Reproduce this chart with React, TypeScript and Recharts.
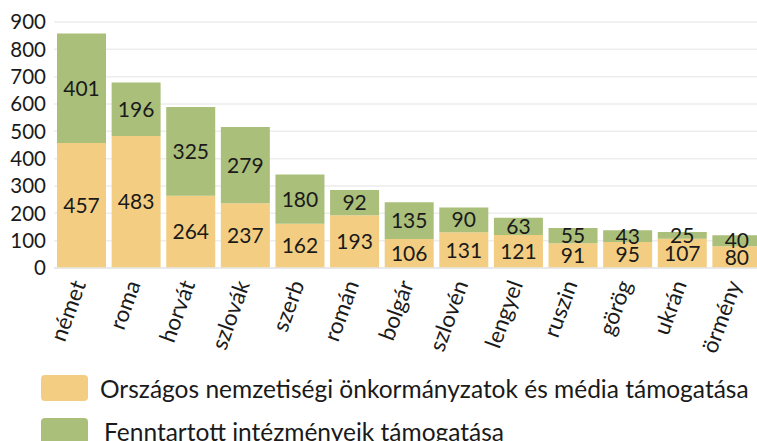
import React from "react";
import { BarChart, Bar, XAxis, YAxis, CartesianGrid, LabelList, Legend } from "recharts";

const categories = ["német", "roma", "horvát", "szlovák", "szerb", "román", "bolgár", "szlovén", "lengyel", "ruszin", "görög", "ukrán", "örmény"];
const orszagos = [457, 483, 264, 237, 162, 193, 106, 131, 121, 91, 95, 107, 80];
const fenntartott = [401, 196, 325, 279, 180, 92, 135, 90, 63, 55, 43, 25, 40];
const yTicks = [0, 100, 200, 300, 400, 500, 600, 700, 800, 900];
const seriesNames = ["Országos nemzetiségi önkormányzatok és média támogatása", "Fenntartott intézményeik támogatása"];
const colors = ["#F3CE82", "#AABF7A"];

const data = categories.map((c, i) => ({ name: c, a: orszagos[i], b: fenntartott[i] }));

const FONT = "Lato, 'Noto Sans', sans-serif";
const W = 400;

const CatTick = (props: any) => {
  const { x, y, payload } = props;
  const ax = x + 5;
  const ay = y + 16;
  return (
    <text x={ax} y={ay} transform={`rotate(-70 ${ax} ${ay})`} textAnchor="end" fontSize={22.5} fontWeight={W} fontFamily={FONT} fill="#1a1a1a">
      {payload.value}
    </text>
  );
};

const LegendContent = () => (
  <div style={{ fontFamily: FONT, fontSize: 24.5, fontWeight: W, color: "#1a1a1a" }}>
    {seriesNames.map((n, i) => (
      <div key={n} style={{ display: "flex", alignItems: "center", height: 26, marginBottom: 17 }}>
        <div style={{ width: 47, height: 26, borderRadius: 4, background: colors[i], flexShrink: 0 }} />
        <span style={{ marginLeft: i === 0 ? 12 : 16, whiteSpace: "nowrap" }}>{n}</span>
      </div>
    ))}
  </div>
);

export default function App() {
  return (
    <div style={{ position: "absolute", left: 0, top: 0, width: 757, height: 441, overflow: "hidden", background: "#fff" }}>
      <BarChart width={770} height={441} data={data} margin={{ top: 22, right: 6, left: 0, bottom: 73 }} barCategoryGap={3}>
        <CartesianGrid vertical={false} stroke="#ededed" strokeWidth={1.5} />
        <XAxis dataKey="name" interval={0} tick={<CatTick />} tickLine={false} tickSize={0} tickMargin={0} height={100} axisLine={{ stroke: "#e6e6e6", strokeWidth: 1.5 }} />
        <YAxis domain={[0, 900]} ticks={yTicks} interval={0} width={54} axisLine={false} tickLine={false} tickSize={0} tickMargin={8} tick={{ fontSize: 20.5, fontWeight: W, fontFamily: FONT, fill: "#1a1a1a" }} />
        <Legend layout="vertical" align="center" verticalAlign="middle" wrapperStyle={{ top: 375, left: 41, width: 716 }} content={<LegendContent />} />
        <Bar dataKey="a" stackId="s" fill={colors[0]} isAnimationActive={false} name={seriesNames[0]}>
          <LabelList dataKey="a" position="center" fill="#1a1a1a" fontSize={21} fontWeight={W} fontFamily={FONT} />
        </Bar>
        <Bar dataKey="b" stackId="s" fill={colors[1]} isAnimationActive={false} name={seriesNames[1]}>
          <LabelList dataKey="b" position="center" fill="#1a1a1a" fontSize={21} fontWeight={W} fontFamily={FONT} />
        </Bar>
      </BarChart>
    </div>
  );
}
